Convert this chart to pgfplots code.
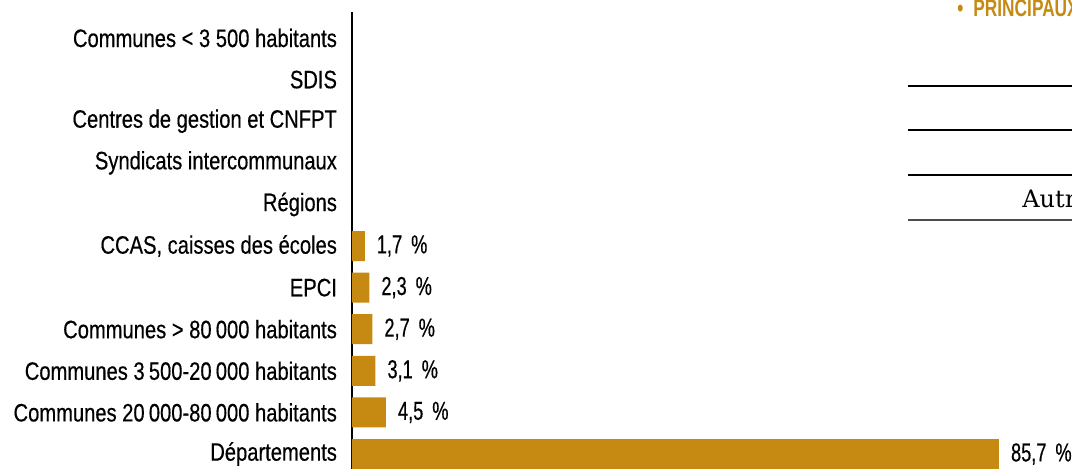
\documentclass[border=0pt]{standalone}
\usepackage{pgfplots}
\pgfplotsset{compat=1.18}
\usepackage{fontspec}
\setmainfont{Liberation Sans}[FakeStretch=0.8, FakeBold=0.4]
\newfontfamily\valuefont{Liberation Sans}[FakeStretch=0.7, FakeBold=0.4]
\newfontfamily\titlefont{Liberation Sans}[FakeStretch=0.72]
\newfontfamily\seriffont{DejaVu Serif}
\definecolor{gold}{RGB}{198,138,18}

\begin{document}
\begin{tikzpicture}
\useasboundingbox (0pt,0pt) rectangle (536pt,-234.5pt);
\clip (0pt,0pt) rectangle (536pt,-234.5pt);
\begin{scope}[x=0.5pt,y=-0.5pt]
% fragments of the neighbouring block, cut by the frame
\node[anchor=base west, inner sep=0pt, text=gold, font=\titlefont\bfseries\fontsize{12}{14}\selectfont]
  at (957,17) {\textbullet\hspace{5pt}PRINCIPAUX EMPLOYEURS};
\draw[line width=0.6pt] (908,86) -- (1072,86);
\draw[line width=0.6pt] (908,130) -- (1072,130);
\draw[line width=0.6pt] (908,175) -- (1072,175);
\draw[line width=0.7pt, black!70] (908,220) -- (1072,220);
\node[anchor=base west, inner sep=0pt, font=\seriffont\fontsize{12}{14}\selectfont]
  at (1022,208) {Autres};
\end{scope}

\begin{axis}[
    at={(176pt,-234.5pt)}, anchor=south west,
    scale only axis,
    width=360pt, height=228.5pt,
    xmin=0, xmax=95.37,
    ymin=-0.36, ymax=10.625,
    axis x line=none,
    axis y line*=left,
    y axis line style={black, line width=0.8pt, -},
    ytick={0,...,10},
    yticklabels={Départements,
                 Communes 20\,000-80\,000 habitants,
                 Communes 3\,500-20\,000 habitants,
                 Communes > 80\,000 habitants,
                 EPCI,
                 {CCAS, caisses des écoles},
                 Régions,
                 Syndicats intercommunaux,
                 Centres de gestion et CNFPT,
                 SDIS,
                 Communes < 3 500 habitants},
    major tick length=0pt,
    yticklabel style={anchor=east, xshift=-4pt,
      font=\fontsize{12.6}{15}\selectfont},
    xbar, bar width=15pt,
    clip=false,
    point meta=explicit symbolic,
    nodes near coords={\pgfplotspointmeta},
    nodes near coords style={anchor=west, xshift=2.5pt,
      font=\valuefont\fontsize{13}{15}\selectfont},
  ]
% PLOT: parts by employer
\addplot[fill=gold, draw=none]
coordinates {
  (85.7,0) [85,7\hspace{4.5pt}\%]
  (4.5,1) [4,5\hspace{4.5pt}\%]
  (3.1,2) [3,1\hspace{4.5pt}\%]
  (2.7,3) [2,7\hspace{4.5pt}\%]
  (2.3,4) [2,3\hspace{4.5pt}\%]
  (1.7,5) [1,7\hspace{4.5pt}\%]
};
\end{axis}
\end{tikzpicture}
\end{document}
